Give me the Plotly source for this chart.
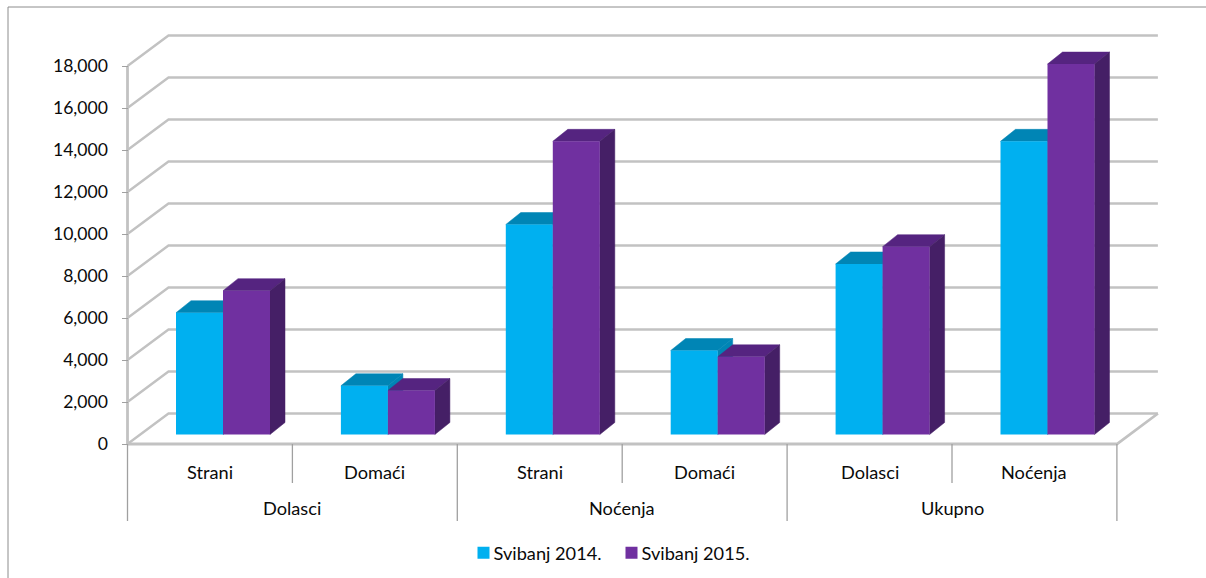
import plotly.graph_objects as go

groups = ["Dolasci", "Noćenja", "Ukupno"]
group_spans = [(0, 2), (2, 4), (4, 6)]
categories = ["Strani", "Domaći", "Strani", "Domaći", "Dolasci", "Noćenja"]
blue_2014 = [5800, 2320, 10000, 4000, 8120, 13960]
purple_2015 = [6850, 2095, 13960, 3700, 8945, 17640]
series = [
    ("Svibanj 2014.", blue_2014, "#00B0F0", "#0085B5", "#0085B5"),
    ("Svibanj 2015.", purple_2015, "#7030A0", "#552480", "#451F66"),
]
y_ticks = list(range(0, 18001, 2000))
FONT = "Lato, Carlito, Calibri, sans-serif"
TXT = "#0A0A0A"
GRID = "#C2C2C2"

W, H = 1206, 578
X0_PX, CAT_PX = 127.5, 164.9       # pixel of category 0, pixels per category
Y0_PX, VAL_PX = 444.0, 0.021       # pixel of value 0, pixels per unit


def ux(px):
    return px / CAT_PX


def uy(px):
    return px / VAL_PX


xr = [-X0_PX / CAT_PX, (W - X0_PX) / CAT_PX]
yr = [-(H - Y0_PX) / VAL_PX, Y0_PX / VAL_PX]
wall_dx, wall_dy = ux(41), uy(30.5)
bar_w = ux(47)
bar_front_dx = ux(48.5)      # left edge of first bar from category edge
bar_base = uy(9.5)
side_dx, side_dy = ux(15), uy(12)

fig = go.Figure()

# walls: oblique gridlines
gx, gy = [], []
for v in y_ticks:
    gx += [0, wall_dx, 6 + wall_dx, None]
    gy += [v, v + wall_dy, v + wall_dy, None]
fig.add_trace(go.Scatter(x=gx, y=gy, mode="lines", line=dict(color=GRID, width=2.4),
                         hoverinfo="skip", showlegend=False))
# vertical axis, floor front edge and right floor edge
fig.add_trace(go.Scatter(x=[0, 0, None, 0, 6, 6 + wall_dx], y=[0, 18000, None, 0, 0, wall_dy],
                         mode="lines", line=dict(color=GRID, width=2.8),
                         hoverinfo="skip", showlegend=False))

# category separators below the axis
for i in range(7):
    outer = i % 2 == 0
    fig.add_trace(go.Scatter(x=[i, i], y=[0, uy(-77 if outer else -39)], mode="lines",
                             line=dict(color="#A0A0A0", width=1.3),
                             hoverinfo="skip", showlegend=False))

# 3D faces (top and side) behind the front faces
for s, (name, vals, front, top, side) in enumerate(series):
    for i, v in enumerate(vals):
        x1 = i + bar_front_dx + s * bar_w
        x2 = x1 + bar_w
        b = bar_base
        t = b + v
        fig.add_trace(go.Scatter(
            x=[x1, x2, x2 + side_dx, x1 + side_dx, x1],
            y=[t, t, t + side_dy, t + side_dy, t],
            mode="lines", fill="toself", fillcolor=top, line=dict(color=top, width=0.5),
            hoverinfo="skip", showlegend=False))
        fig.add_trace(go.Scatter(
            x=[x2, x2 + side_dx, x2 + side_dx, x2, x2],
            y=[b, b + side_dy, t + side_dy, t, b],
            mode="lines", fill="toself", fillcolor=side, line=dict(color=side, width=0.5),
            hoverinfo="skip", showlegend=False))

# front faces, on an overlaying subplot so they sit above the oblique faces
for s, (name, vals, front, top, side) in enumerate(series):
    fig.add_trace(go.Bar(
        x=[i + bar_front_dx + s * bar_w + bar_w / 2 for i in range(6)],
        y=vals, base=bar_base, width=bar_w, name=name,
        marker=dict(color=front, line=dict(width=0)),
        xaxis="x2", yaxis="y2"))

ann = []
for i, c in enumerate(categories):
    ann.append(dict(x=i + 0.5, y=uy(-28), text=c, xref="x", yref="y", showarrow=False,
                    font=dict(family=FONT, size=18.2, color=TXT)))
for g, (a, b) in zip(groups, group_spans):
    ann.append(dict(x=(a + b) / 2, y=uy(-64), text=g, xref="x", yref="y", showarrow=False,
                    font=dict(family=FONT, size=18.2, color=TXT)))

fig.update_layout(
    width=W, height=H, margin=dict(l=0, r=0, t=0, b=0),
    paper_bgcolor="white", plot_bgcolor="white",
    barmode="overlay", annotations=ann,
    font=dict(family=FONT, size=18.2, color=TXT),
    xaxis=dict(range=xr, visible=False, fixedrange=True),
    yaxis=dict(range=yr, anchor="free", position=X0_PX / W, side="left",
               tickmode="array", tickvals=y_ticks, tickformat=",d",
               showgrid=False, zeroline=False, showline=False,
               ticks="outside", ticklen=6, tickcolor="#A0A0A0", tickwidth=1.2,
               ticklabelstandoff=10,
               tickfont=dict(family=FONT, size=17.6, color=TXT), fixedrange=True),
    xaxis2=dict(range=xr, visible=False, overlaying="x", fixedrange=True),
    yaxis2=dict(range=yr, visible=False, overlaying="y", fixedrange=True),
    legend=dict(orientation="h", x=463.5 / W, xanchor="left", y=1 - 553 / H, yanchor="middle",
                entrywidthmode="pixels", entrywidth=103,
                bgcolor="rgba(0,0,0,0)", font=dict(family=FONT, size=18.2, color=TXT)),
    shapes=[
        dict(type="line", xref="paper", yref="paper", x0=8 / W, x1=8 / W, y0=0, y1=1 - 7 / H,
             line=dict(color="#8C8C8C", width=1)),
        dict(type="line", xref="paper", yref="paper", x0=8 / W, x1=1, y0=1 - 7 / H, y1=1 - 7 / H,
             line=dict(color="#8C8C8C", width=1)),
    ],
)

POST = """
document.body.style.margin='0';document.body.style.overflow='hidden';
var gd=document.getElementById('{plot_id}');
function tightenLegend(){document.querySelectorAll('.legendtext').forEach(function(t){t.setAttribute('x','30');});}
tightenLegend();gd.on('plotly_afterplot',tightenLegend);setTimeout(tightenLegend,100);
"""
fig.write_html("out.html", post_script=POST, config=dict(displayModeBar=False))
